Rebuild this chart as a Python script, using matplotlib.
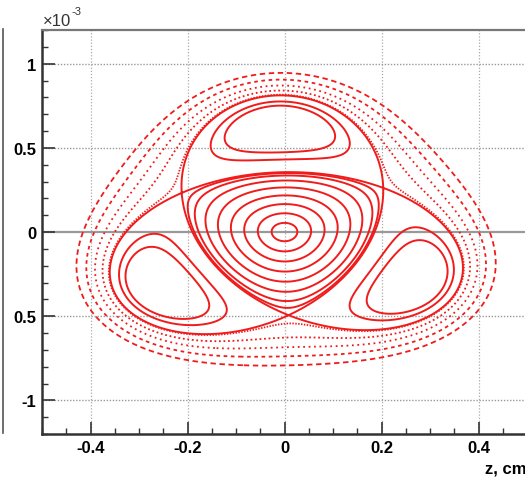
import matplotlib
matplotlib.use("Agg")
import matplotlib.pyplot as plt
import numpy as np

# --- values (z in cm, z' in 1e-3) ---
zp_scale = 2.06          # z' units per cm of z that make the resonance look round
saddle_r = 0.24          # radius of the three X points (z units)
island_r = 0.305         # radius of the three island centres
tilt_deg = 2.0           # small rotation of the pattern

# curves through these points (all at z = 0)
ring_zp = [-0.055, -0.115, -0.175, -0.235, -0.295, -0.355, -0.41, -0.45]   # central orbits
island_zp = [0.75, 0.775]                                                   # orbits inside top island
outer_zp = [0.815, 0.84, 0.87, 0.905, 0.945]                                # orbits around everything
outer_styles = [(0, (0.8, 0.8)), (0, (1, 1.5)), (0, (1, 2)), (0, (2, 2)), (0, (3, 2))]

xticks = [-0.4, -0.2, 0, 0.2, 0.4]
xtick_labels = ["-0.4", "-0.2", "0", "0.2", "0.4"]
yticks = [-1, -0.5, 0, 0.5, 1]
ytick_labels = ["-1", "0.5", "0", "0.5", "1"]

red = "#f01c1c"

# --- invariant of the third-order resonance, used to trace the orbits ---
eps = (island_r - saddle_r) / 3.0
delta = -island_r * saddle_r
phi = np.deg2rad(tilt_deg)


def invariant(z, zp):
    x = z
    y = zp / zp_scale
    r = np.hypot(x, y)
    th = np.arctan2(y, x)
    return delta * r**2 / 2 + r**4 / 4 + eps * r**3 * np.sin(3 * (th - phi)), r


zg = np.linspace(-0.5, 0.5, 800)
zpg = np.linspace(-1.2, 1.2, 800)
Z, ZP = np.meshgrid(zg, zpg)
H, R = invariant(Z, ZP)
h_sep = invariant(saddle_r * np.cos(phi - np.pi / 2),
                  zp_scale * saddle_r * np.sin(phi - np.pi / 2))[0]

fig = plt.figure(figsize=(5.25, 4.81), dpi=100)
ax = fig.add_axes([42 / 525, 46 / 481, 485 / 525, 404 / 481])

# grid
for x in xticks:
    ax.axvline(x, color="#aaaaaa", lw=0.9, ls=(0, (1, 1.5)), zorder=0)
for y in yticks:
    if y == 0:
        ax.axhline(0, color="#999999", lw=1.6, zorder=0)
    else:
        ax.axhline(y, color="#999999", lw=1.0, ls=(0, (1, 1.2)), zorder=0)

# central orbits
ring_levels = sorted(invariant(0.0, np.array(ring_zp))[0])
H_in = np.where(R < saddle_r, H, np.nan)
ax.contour(Z, ZP, H_in, levels=ring_levels, colors=red, linewidths=1.4,
           linestyles="solid", negative_linestyles="solid")

# separatrix and island orbits
isl_levels = sorted(list(invariant(0.0, np.array(island_zp))[0]) + [h_sep])
ax.contour(Z, ZP, H, levels=isl_levels, colors=red, linewidths=1.4,
           linestyles="solid", negative_linestyles="solid")

# outer orbits
H_out = np.where(R > saddle_r, H, np.nan)
for zp, st in zip(outer_zp, outer_styles):
    lv = invariant(0.0, zp)[0]
    cs = ax.contour(Z, ZP, H_out, levels=[lv], colors=red, linewidths=1.3)
    cs.set_linestyle([st])

ax.set_xlim(-0.5, 0.5)
ax.set_ylim(-1.2, 1.2)
ax.set_xticks(xticks)
ax.set_xticklabels(xtick_labels)
ax.set_yticks(yticks)
ax.set_yticklabels(ytick_labels)
ax.set_xticks(np.arange(-0.5, 0.51, 0.05), minor=True)
ax.set_yticks(np.arange(-1.2, 1.21, 0.1), minor=True)
ax.tick_params(which="major", direction="in", length=9, width=1.2, color="#333333",
               labelsize=12, pad=4, top=False, right=False)
ax.tick_params(which="minor", direction="in", length=4.5, width=1.0, color="#333333",
               top=False, right=False)
for lab in ax.get_xticklabels() + ax.get_yticklabels():
    lab.set_fontweight("bold")
    lab.set_fontfamily("Liberation Sans")
for s in ["left", "bottom"]:
    ax.spines[s].set_color("#333333")
    ax.spines[s].set_linewidth(1.8)
ax.spines["top"].set_color("#777777")
ax.spines["top"].set_linewidth(1.6)
ax.spines["right"].set_visible(False)

fig.text(43 / 525, 1 - 26 / 481, "\u00d710", fontsize=12, fontfamily="Liberation Sans",
         color="#333333")
fig.text(72 / 525, 1 - 15 / 481, "-3", fontsize=8, fontfamily="Liberation Sans",
         color="#333333")
fig.text(485 / 525, 1 - 474 / 481, "z, cm", fontsize=12, fontweight="bold",
         fontfamily="Liberation Sans")

# edge of the neighbouring panel
fig.add_artist(plt.Line2D([2.5 / 525, 2.5 / 525], [1 - 30 / 481, 1 - 434 / 481],
                          color="#555555", lw=1.2, transform=fig.transFigure))

fig.savefig("out.png", dpi=100)
